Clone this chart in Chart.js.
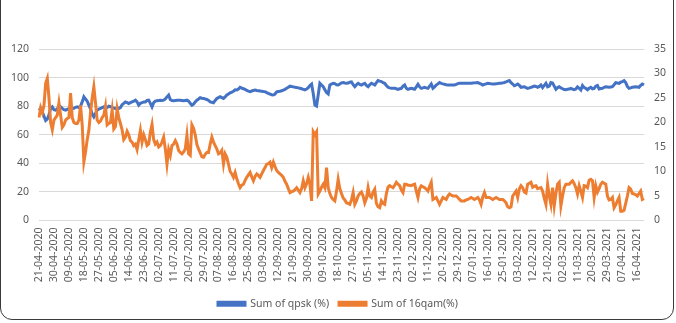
<!DOCTYPE html>
<html>
<head>
<meta charset="utf-8">
<script src="https://cdn.jsdelivr.net/npm/chart.js@4.4.0/dist/chart.umd.min.js"></script>
<style>
  html, body { margin: 0; padding: 0; background: #fff; }
  #wrap { position: relative; width: 676px; height: 323px; overflow: hidden; }
  #frame { position: absolute; left: 0; top: -12px; width: 672px; height: 330px;
           border: 1.5px solid #3a3a3a; border-radius: 12px; pointer-events: none; }
  canvas { position: absolute; left: 0; top: 0; }
</style>
</head>
<body>
<div id="wrap">
  <canvas id="chart" width="676" height="323"></canvas>
  <div id="frame"></div>
</div>
<script>
// daily values, 21-04-2020 .. 20-04-2021
const startDate = Date.UTC(2020, 3, 21);
const dayCount = 365;
const labelEvery = 9;

const seriesNames = ['Sum of qpsk (%)', 'Sum of 16qam(%)'];

const qpsk = [
  77, 78.5, 76, 73, 70, 71, 74, 78.5, 79.5, 77.5,
  77.2, 78, 80.5, 79.5, 78.4, 77.5, 77.2, 77.8, 78.4, 78.2,
  78.4, 78.5, 79.2, 79.5, 79, 80, 83, 86.6, 85, 83.5,
  80.7, 78, 74.5, 72.5, 75, 77.2, 78, 78.4, 79, 79.5,
  78.4, 79, 80, 79.6, 79, 78.7, 78.4, 78.5, 78.4, 79,
  81, 82, 83, 82.5, 81.9, 82.5, 83, 83.5, 84.2, 83,
  80.7, 82, 82.4, 83, 83, 84, 84.2, 82, 79.5, 82.5,
  83.5, 83.8, 84, 84.2, 84, 84.2, 85, 86.5, 87.8, 84.5,
  84, 83.8, 84, 84.2, 84.2, 84.2, 84, 83.8, 84, 84.2,
  83.5, 82, 80.7, 81.5, 83, 84.2, 85, 85.9, 85.6, 85.4,
  85, 84.7, 84, 83, 82.7, 82.4, 84, 85.4, 86, 86.6,
  86, 85.4, 86.5, 87.8, 88.5, 89.4, 89.8, 90.5, 91.5, 91.3,
  92, 93.2, 92.7, 92.2, 91.8, 91, 90.5, 90.1, 90.6, 91,
  91.3, 91, 90.8, 90.6, 90.4, 90.2, 90.1, 89.5, 89, 88.5,
  88, 87.8, 88.5, 90, 90.3, 90.5, 90.8, 91.3, 91.8, 92.5,
  93.2, 94, 93.8, 93.5, 93.2, 93, 92.8, 92.5, 92.2, 91.8,
  91.4, 92, 93, 94.5, 95.5, 88.9, 80.7, 80, 88, 96,
  94.8, 93.6, 91.5, 89.5, 88.5, 94.8, 95.5, 96, 95.8, 95,
  94.8, 95.5, 96.3, 96.5, 96.2, 96, 96.2, 96.8, 97, 95,
  93.6, 95, 96, 95.3, 94.8, 95.5, 96, 94.5, 93.6, 95,
  96, 95.5, 94.8, 96.5, 97.9, 97.5, 97.2, 96.5, 96, 94.5,
  93.2, 92.8, 92.5, 92.5, 92.5, 92.2, 91.8, 92.2, 92.5, 94,
  94.8, 92.5, 91.8, 92.2, 92.5, 92.2, 91.8, 93.5, 95.3, 93.5,
  92.5, 92.8, 93.2, 92.8, 92.5, 94, 95.5, 92.5, 93.5, 94.8,
  95.6, 96.5, 96, 95.6, 95.3, 95, 94.8, 94.8, 94.8, 94.8,
  94.8, 95.2, 95.8, 96, 96, 96, 96, 96, 96, 96,
  96, 96.2, 96.3, 96.4, 96.5, 96, 95.5, 94.8, 95.2, 95.6,
  96, 95.8, 95.6, 95.5, 95.5, 95.7, 95.8, 96, 96, 96.3,
  96.6, 97, 97.5, 97.9, 96.5, 95.5, 94.3, 94.8, 95.5, 94.5,
  93.2, 93.4, 93.6, 93, 92.5, 92.8, 93.2, 93.6, 94.1, 93.8,
  93.2, 93.8, 94.8, 93, 94.5, 96, 93.5, 94, 96.5, 96.2,
  94, 91.8, 93, 93.6, 92.8, 92.2, 91.6, 91.5, 91.8, 92,
  92.5, 92, 91.5, 92, 93.5, 92.5, 91.3, 94.5, 93, 92.5,
  91.5, 92.5, 93.2, 92.2, 92.5, 94, 94.5, 92, 92.3, 92.5,
  93.2, 93.6, 93.4, 93.2, 93.4, 93.6, 95, 96.5, 96.2, 96,
  96.8, 97.2, 97.8, 96.5, 93.8, 92.5, 92.8, 93.2, 93.4, 93.6,
  93.4, 93.2, 94.5, 95.5, 94.8
];

const qam16 = [
  21, 23, 22, 23.5, 28, 29, 25, 20, 18.5, 20.5,
  21, 21.5, 24, 21.5, 19, 19.5, 20.5, 20.8, 21, 26,
  21, 20, 19.8, 19.8, 20.5, 23.5, 19.5, 12, 14, 16.5,
  18.4, 22, 25, 27.3, 24, 20.5, 20, 20.3, 21, 21.5,
  23.3, 19.5, 19.8, 20, 22.5, 18.7, 19.2, 22.8, 21, 19.8,
  18.5, 16.5, 17, 18.2, 17.5, 16.3, 16, 15.3, 15.6, 14.5,
  16.5, 18.4, 16, 17.5, 16.5, 15.3, 15.6, 18, 19.6, 16.5,
  15.6, 16, 15, 15.3, 16, 17, 14.6, 11.5, 14.5, 13.3,
  15.3, 15.6, 16.3, 15.6, 14.3, 13.9, 13.6, 14, 14.6, 17.4,
  13.6, 13.3, 19.5, 18.8, 17.5, 15.5, 14.6, 13.8, 13, 12.9,
  13.5, 13.9, 13.9, 15.6, 17, 16, 15.3, 14.6, 13.6, 13.8,
  14.3, 11.5, 13.6, 12.9, 11.5, 10, 9.5, 8.8, 9.8, 8.5,
  7.5, 6.7, 7.2, 7.4, 8.2, 8.8, 9.3, 9.8, 8.9, 8.1,
  9, 9.5, 9.2, 8.8, 9.5, 10.2, 10.8, 11.5, 11.6, 11.9,
  10.8, 11.9, 11, 10.2, 9.8, 9.5, 9.2, 8.8, 8, 7.4,
  6.5, 5.7, 5.9, 6, 6.3, 6.7, 6.2, 5.7, 6.5, 8.1,
  6.7, 7.5, 8.8, 7.4, 4, 18.1, 17.5, 18.1, 5.4, 6,
  6.8, 7.4, 6.7, 10.8, 6.7, 5.5, 4.7, 4.3, 4, 6,
  8.4, 6.5, 5.5, 4.6, 4.2, 3.6, 3.5, 3.3, 4.2, 5.7,
  3.3, 4, 5, 5.5, 5.8, 5, 3.6, 4.5, 6.7, 5,
  4.7, 5.8, 6.4, 3.5, 2.8, 2.6, 4, 3.5, 3.3, 5.5,
  6.8, 7.1, 6.9, 6.7, 7.2, 7.8, 7.4, 7.1, 6.2, 5.7,
  7.4, 7.4, 7.2, 7.2, 7.1, 7.3, 7.4, 6, 4.7, 6.5,
  7.1, 6.9, 6.7, 6.4, 6, 7, 7.8, 4.3, 4.5, 4.7,
  4, 3.3, 4, 4.7, 4.5, 4.3, 5, 5.4, 5.2, 5,
  5, 5, 4.7, 4.3, 4, 4, 4, 4.2, 4.3, 4.5,
  4.7, 4.5, 4.3, 4.5, 4.7, 4.2, 3.3, 4.8, 5.7, 4.7,
  4.7, 4.7, 4.5, 4.3, 4.5, 4.7, 4.5, 4.3, 4.3, 4.3,
  4, 3.6, 2.8, 2.6, 2.8, 5, 5.5, 6, 4.7, 6.5,
  7.1, 6.7, 5.8, 5.6, 7.4, 7.6, 7.8, 6.8, 7, 7.1,
  6.5, 6.6, 6.7, 6, 4.5, 3.3, 7.4, 5, 3.3, 6.7,
  3, 5.5, 7.4, 7.8, 3, 5, 6.7, 7.4, 7.4, 7.4,
  7.8, 8.1, 7.5, 6.7, 5.4, 7.1, 6, 4.7, 7.1, 7,
  6.7, 8.2, 8.4, 8.1, 4.7, 7.1, 5.8, 6.5, 7.4, 7.8,
  7.6, 7.4, 5, 4.2, 4.3, 4.7, 2.6, 3.2, 4, 4.7,
  1.9, 1.9, 2.1, 3.5, 5, 6.7, 6.4, 5.5, 5.4, 5.3,
  5, 5.5, 6, 4.3, 4.5
];

const leftTicks = { min: 0, max: 120, step: 20 };
const rightTicks = { min: 0, max: 35, step: 5 };

function pad2(n) { return (n < 10 ? '0' : '') + n; }

var dates = [];
for (var i = 0; i < dayCount; i++) {
    var d = new Date(startDate + i * 86400000);
    dates.push(pad2(d.getUTCDate()) + '-' + pad2(d.getUTCMonth() + 1) + '-' + d.getUTCFullYear());
}

const textColor = '#595959';
const fontFamily = "'Noto Sans', 'DejaVu Sans', sans-serif";

const chart = new Chart(document.getElementById('chart'), {
    type: 'line',
    data: {
        labels: dates,
        datasets: [{
            label: seriesNames[0],
            data: qpsk,
            yAxisID: 'y',
            borderColor: '#4472C4',
            backgroundColor: '#4472C4',
            borderWidth: 3,
            pointRadius: 0,
            tension: 0,
            order: 1
        }, {
            label: seriesNames[1],
            data: qam16,
            yAxisID: 'y1',
            borderColor: '#ED7D31',
            backgroundColor: '#ED7D31',
            borderWidth: 3,
            pointRadius: 0,
            tension: 0,
            order: 0
        }]
    },
    options: {
        responsive: false,
        animation: false,
        layout: { padding: { top: 49, left: 0, right: 0, bottom: 4 } },
        plugins: {
            tooltip: { enabled: false },
            legend: {
                position: 'bottom',
                labels: {
                    boxWidth: 27,
                    boxHeight: 3,
                    padding: 10,
                    color: textColor,
                    font: { family: fontFamily, size: 10.5 },
                    sort: (a, b) => a.datasetIndex - b.datasetIndex
                }
            }
        },
        scales: {
            x: {
                offset: false,
                grid: { display: false, drawTicks: false },
                border: { display: false },
                ticks: {
                    autoSkip: false,
                    maxRotation: 90,
                    minRotation: 90,
                    padding: 7,
                    color: textColor,
                    font: { family: fontFamily, size: 10.5 },
                    callback: function(value, index) {
                        return index % labelEvery === 0 ? dates[index] : null;
                    }
                },
                afterFit: s => { s.height = 68; }
            },
            y: {
                position: 'left',
                min: leftTicks.min,
                max: leftTicks.max,
                grid: { color: '#d9d9d9', drawTicks: false, lineWidth: 1 },
                border: { display: false },
                ticks: {
                    stepSize: leftTicks.step,
                    padding: 10,
                    color: textColor,
                    font: { family: fontFamily, size: 10.5 }
                },
                afterFit: s => { s.width = 39; }
            },
            y1: {
                position: 'right',
                min: rightTicks.min,
                max: rightTicks.max,
                grid: { display: false, drawTicks: false },
                border: { display: false },
                ticks: {
                    stepSize: rightTicks.step,
                    padding: 10,
                    color: textColor,
                    font: { family: fontFamily, size: 10.5 }
                },
                afterFit: s => { s.width = 32; }
            }
        }
    }
});
</script>
</body>
</html>
